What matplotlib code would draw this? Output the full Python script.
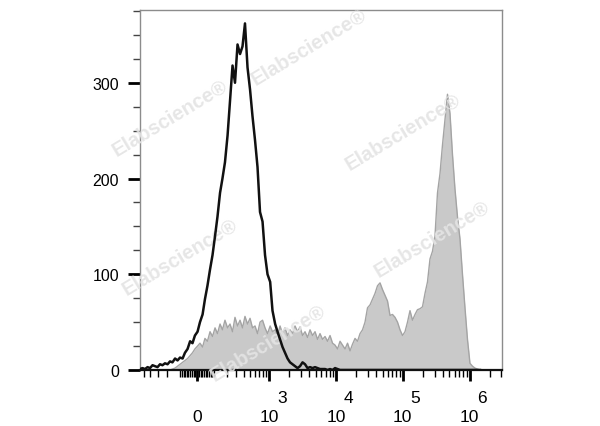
import numpy as np
import matplotlib
matplotlib.use("Agg")
import matplotlib.pyplot as plt

plt.rcParams['font.family'] = ['Liberation Sans', 'DejaVu Sans']

# fluorescence channel (bin centres)
channel = [
    -581, -531, -485, -442, -403, -367, -334, -303, -274, -248,
    -223, -199, -178, -158, -138, -120, -103, -86, -71, -55,
    -40, -26, -12, 3, 17, 32, 46, 61, 77, 93,
    110, 127, 146, 165, 186, 209, 232, 258, 285, 315,
    347, 381, 418, 459, 503, 550, 602, 658, 719, 786,
    858, 936, 1027, 1114, 1222, 1327, 1448, 1579, 1722, 1878,
    2047, 2233, 2432, 2653, 2893, 3154, 3437, 3747, 4085, 4454,
    4854, 5291, 5766, 6288, 6855, 7470, 8142, 8876, 9678, 10545,
    11496, 12530, 13660, 14890, 16230, 17690, 19280, 21020, 22900, 24970,
    27210, 29660, 32330, 35240, 38410, 41870, 45630, 49740, 54210, 59090,
    64400, 70200, 76510, 83400, 90900, 99100, 108000, 117700, 128300, 139800,
    152400, 166100, 181100, 197400, 215100, 234500, 255600, 278600, 303600, 331000,
    360700, 393200, 428600, 467100, 509200, 555000, 604900, 659300, 718700, 783300,
    853800, 930600, 1014000, 1105000, 1205000, 1313000, 1432000,
]

# unstained control (black line)
control = [
    1, 2, 1, 3, 2, 5, 4, 3, 6, 5,
    7, 6, 9, 8, 12, 10, 13, 12, 18, 22,
    30, 28, 36, 40, 50, 58, 74, 88, 105, 120,
    140, 160, 185, 200, 217, 245, 280, 318, 300, 340,
    330, 338, 362, 316, 293, 265, 240, 212, 165, 155,
    120, 100, 92, 62, 48, 40, 32, 24, 18, 12,
    8, 6, 4, 2, 4, 8, 6, 2, 3, 2,
    3, 2, 1, 1, 1, 0, 1, 0, 2, 1,
] + [0] * 57

# stained sample (grey filled)
stained = [
    0, 0, 0, 0, 0, 0, 0, 0, 0, 0,
    0, 0, 0, 1, 2, 4, 6, 8, 10, 12,
    15, 18, 22, 25, 28, 24, 33, 30, 40, 35,
    44, 38, 48, 42, 52, 44, 48, 40, 55, 46,
    52, 44, 56, 48, 54, 44, 46, 38, 50, 52,
    44, 38, 46, 40, 42, 36, 46, 38, 44, 36,
    42, 38, 46, 40, 45, 36, 40, 34, 42, 36,
    40, 32, 38, 32, 35, 30, 36, 28, 26, 22,
    30, 26, 22, 28, 20, 27, 33, 30, 38, 42,
    50, 65, 68, 74, 80, 88, 91, 84, 78, 72,
    57, 58, 55, 50, 42, 36, 40, 50, 62, 52,
    58, 63, 64, 66, 80, 92, 116, 124, 140, 185,
    205, 235, 262, 288, 268, 225, 189, 160, 137, 100,
    65, 32, 7, 4, 2, 1, 0,
]

x_major = [0, 1e3, 1e4, 1e5, 1e6]
x_major_labels = ['0', '10', '10', '10', '10']
exponents = [3, 4, 5, 6]
y_major = [0, 100, 200, 300]

fig = plt.figure(figsize=(6, 4.27), dpi=100)
ax = fig.add_axes([140/600, 1-371/427, 362/600, 360/427])

ax.set_xscale('asinh', linear_width=166)
ax.fill_between(channel, stained, color='#c9c9c9', lw=0, zorder=1)
ax.plot(channel, stained, color='#a4a4a4', lw=1, zorder=2)
ax.plot(channel, control, color='#111111', lw=1.8, zorder=4)

ax.set_xlim(-581, 3.06e6)
ax.set_ylim(0, 376)

# ticks
minor_x = ([-500, -400, -300, -200, -100] + [v for v in range(-90, 100, 10) if v != 0]
           + list(range(100, 1000, 100)))
for dec in [1e3, 1e4, 1e5]:
    minor_x += [k*dec for k in range(2, 10)]
minor_x += [2e6, 3e6]
ax.set_xticks(x_major)
ax.set_xticklabels(x_major_labels)
ax.set_xticks(minor_x, minor=True)
ax.set_yticks(y_major)
ax.set_yticks(np.arange(25, 400, 25), minor=True)

ax.tick_params(axis='x', which='major', length=8, width=2, pad=20, labelsize=12.5)
ax.tick_params(axis='x', which='minor', length=5, width=1)
ax.tick_params(axis='y', which='major', length=9, width=2, pad=6, labelsize=11.5)
ax.tick_params(axis='y', which='minor', length=5, width=1, color='#444444')

for e, v in zip(exponents, x_major[1:]):
    ax.annotate(str(e), xy=(v, 0), xycoords=('data', 'axes fraction'),
                xytext=(9, -20), textcoords='offset points',
                ha='center', va='center', fontsize=12.5)

for side in ['top', 'right', 'left']:
    ax.spines[side].set_color('#8c8c8c')
    ax.spines[side].set_linewidth(1)
ax.spines['bottom'].set_color('#111111')
ax.spines['bottom'].set_linewidth(1.6)

# watermark
marks = [(0.283, 0.722), (0.515, 0.888), (0.672, 0.690),
         (0.300, 0.398), (0.720, 0.440), (0.447, 0.195)]
for fx, fy in marks:
    ax.text(fx, fy, 'Elabscience\u00ae', transform=fig.transFigure, rotation=31,
            ha='center', va='center', fontsize=14.5, fontweight='bold',
            color='#e4e4e4', alpha=0.9, clip_on=False, zorder=3)

fig.savefig('out.png', dpi=100)
